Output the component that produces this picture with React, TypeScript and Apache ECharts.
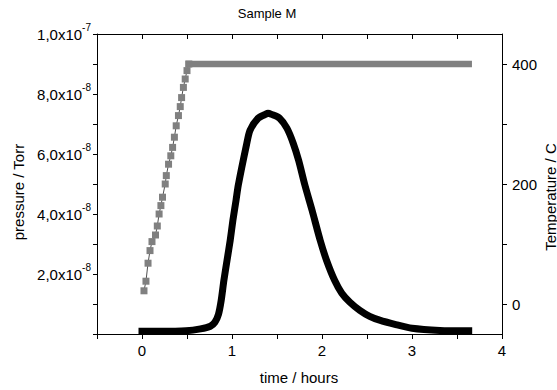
import { useEffect, useRef } from 'react';
import * as echarts from 'echarts';

// Axis tick labels
const timeTicks = [0, 1, 2, 3, 4];
const pressureTicks = [2e-8, 4e-8, 6e-8, 8e-8, 1e-7];
const temperatureTicks = [0, 200, 400];
const temperatureTickMarks = [0, 100, 200, 300, 400];

// Chamber pressure (Torr) against time (hours)
const pressureHours = [
  0, 0.2, 0.49, 0.65, 0.76, 0.81, 0.85, 0.88, 0.91, 0.945, 0.98, 1.01, 1.045, 1.07,
  1.16, 1.2, 1.29, 1.37, 1.4, 1.44, 1.53, 1.61, 1.68, 1.74, 1.81, 1.89, 1.98, 2.05,
  2.14, 2.22, 2.31, 2.42, 2.53, 2.64, 2.81, 3.0, 3.31, 3.63,
];
const pressureTorr = [
  0.9e-9, 0.9e-9, 1.07e-9, 1.7e-9, 2.6e-9, 3.9e-9, 6.6e-9, 11.2e-9, 17.9e-9, 24.6e-9,
  31.2e-9, 37.9e-9, 44.6e-9, 49.6e-9, 62.9e-9, 67.9e-9, 71.9e-9, 73.2e-9, 73.6e-9,
  73.2e-9, 71.9e-9, 68.6e-9, 63.6e-9, 57.9e-9, 49.6e-9, 41.2e-9, 31.2e-9, 24.6e-9,
  17.9e-9, 13.6e-9, 10.6e-9, 7.9e-9, 5.9e-9, 4.6e-9, 3.2e-9, 1.9e-9, 1.2e-9, 1.07e-9,
];

// Sample temperature (C): heating ramp, then hold
const rampHours = [
  0.022, 0.044, 0.067, 0.089, 0.111, 0.15, 0.17, 0.19, 0.21, 0.228, 0.258, 0.27,
  0.295, 0.32, 0.34, 0.36, 0.38, 0.405, 0.425, 0.44, 0.46, 0.48, 0.5, 0.52,
];
const rampTemp = [
  22, 38, 68, 89, 104, 115, 130, 150, 164, 178, 200, 214,
  233, 247, 261, 278, 297, 314, 329, 344, 361, 375, 389, 400,
];
const holdHours = [0.52, 1.0, 2.0, 3.0, 3.63];
const holdTemp = [400, 400, 400, 400, 400];

const FONT = '"Liberation Sans", Arial, sans-serif';

const pairs = (xs: number[], ys: number[]) => xs.map((x, i) => [x, ys[i]]);

const isTick = (list: number[], v: number) =>
  list.some((t) => Math.abs(t - v) <= Math.abs(t) * 1e-6 + 1e-15);

// "2,0x10^-8" style labels with a raised exponent
function sciLabel(v: number): string {
  if (!isTick(pressureTicks, v)) return '';
  const exp = Math.floor(Math.log10(v) + 1e-9);
  const mant = v / Math.pow(10, exp);
  return `{m|${mant.toFixed(1).replace('.', ',')}x10}{e|${exp}}`;
}

export default function App() {
  const ref = useRef<HTMLDivElement>(null);

  useEffect(() => {
    if (!ref.current) return;
    const chart = echarts.init(ref.current, null, { renderer: 'svg' });

    const axisLine = { show: true, onZero: false, lineStyle: { color: '#000', width: 1 } };
    const tickStyle = { color: '#000', width: 1 };
    const nameText = (text: string, x: number, y: number, rotation = 0) => ({
      type: 'text',
      x,
      y,
      rotation,
      style: {
        text,
        fontSize: 15,
        fontFamily: FONT,
        fill: '#000',
        textAlign: 'center',
        textVerticalAlign: 'middle',
      },
    });

    chart.setOption({
      animation: false,
      backgroundColor: '#fff',
      textStyle: { fontFamily: FONT },
      grid: { left: 97, right: 55, top: 34, bottom: 56 },
      xAxis: [
        {
          type: 'value',
          position: 'bottom',
          min: -0.5,
          max: 4,
          interval: 0.5,
          axisLine,
          axisTick: { show: true, inside: false, length: 5, lineStyle: tickStyle },
          axisLabel: {
            show: true,
            customValues: timeTicks,
            margin: 9,
            color: '#000',
            fontSize: 15,
            fontFamily: FONT,
            formatter: (v: number) => (isTick(timeTicks, v) ? String(v) : ''),
          },
          splitLine: { show: false },
        },
        {
          type: 'value',
          position: 'top',
          min: -0.5,
          max: 4,
          interval: 0.5,
          axisLine,
          axisTick: { show: true, inside: true, length: 5, lineStyle: tickStyle },
          axisLabel: { show: false },
          splitLine: { show: false },
        },
      ],
      yAxis: [
        {
          type: 'value',
          position: 'left',
          min: 0,
          max: 1e-7,
          interval: 1e-8,
          axisLine,
          axisTick: { show: true, inside: false, length: 4, lineStyle: tickStyle },
          axisLabel: {
            show: true,
            customValues: pressureTicks,
            margin: 6,
            color: '#000',
            formatter: sciLabel,
            rich: {
              m: { fontSize: 15, fontFamily: FONT, color: '#000', lineHeight: 24 },
              e: { fontSize: 10, fontFamily: FONT, color: '#000', verticalAlign: 'top', lineHeight: 12 },
            },
          },
          splitLine: { show: false },
        },
        {
          type: 'value',
          position: 'right',
          min: -50,
          max: 450,
          axisLine,
          axisTick: {
            show: true,
            inside: false,
            length: 5,
            customValues: temperatureTickMarks,
            lineStyle: tickStyle,
          },
          axisLabel: {
            show: true,
            customValues: temperatureTicks,
            margin: 10,
            color: '#000',
            fontSize: 15,
            fontFamily: FONT,
            formatter: (v: number) => (isTick(temperatureTicks, v) ? String(v) : ''),
          },
          splitLine: { show: false },
        },
      ],
      graphic: [
        {
          type: 'text',
          x: 267,
          y: 13,
          style: {
            text: 'Sample M',
            fontSize: 13,
            fontFamily: FONT,
            fill: '#000',
            textAlign: 'center',
            textVerticalAlign: 'middle',
          },
        },
        nameText('time / hours', 299, 377),
        nameText('pressure / Torr', 18, 192, Math.PI / 2),
        nameText('Temperature / C', 550, 197, Math.PI / 2),
      ],
      series: [
        {
          type: 'line',
          name: 'pressure',
          xAxisIndex: 0,
          yAxisIndex: 0,
          data: pairs(pressureHours, pressureTorr),
          symbol: 'none',
          smooth: 0.25,
          lineStyle: { color: '#000', width: 7, cap: 'square', join: 'round' },
          z: 3,
        },
        {
          type: 'line',
          name: 'temperature hold',
          xAxisIndex: 0,
          yAxisIndex: 1,
          data: pairs(holdHours, holdTemp),
          symbol: 'none',
          lineStyle: { color: '#808080', width: 6.5, cap: 'square' },
          z: 2,
        },
        {
          type: 'line',
          name: 'temperature ramp',
          xAxisIndex: 0,
          yAxisIndex: 1,
          data: pairs(rampHours, rampTemp),
          symbol: 'rect',
          symbolSize: 7,
          showAllSymbol: true,
          itemStyle: { color: '#808080' },
          lineStyle: { color: '#505050', width: 1 },
          z: 2,
        },
      ],
    });

    return () => chart.dispose();
  }, []);

  return (
    <div
      ref={ref}
      style={{ position: 'absolute', left: 0, top: 0, width: 557, height: 390 }}
    />
  );
}
